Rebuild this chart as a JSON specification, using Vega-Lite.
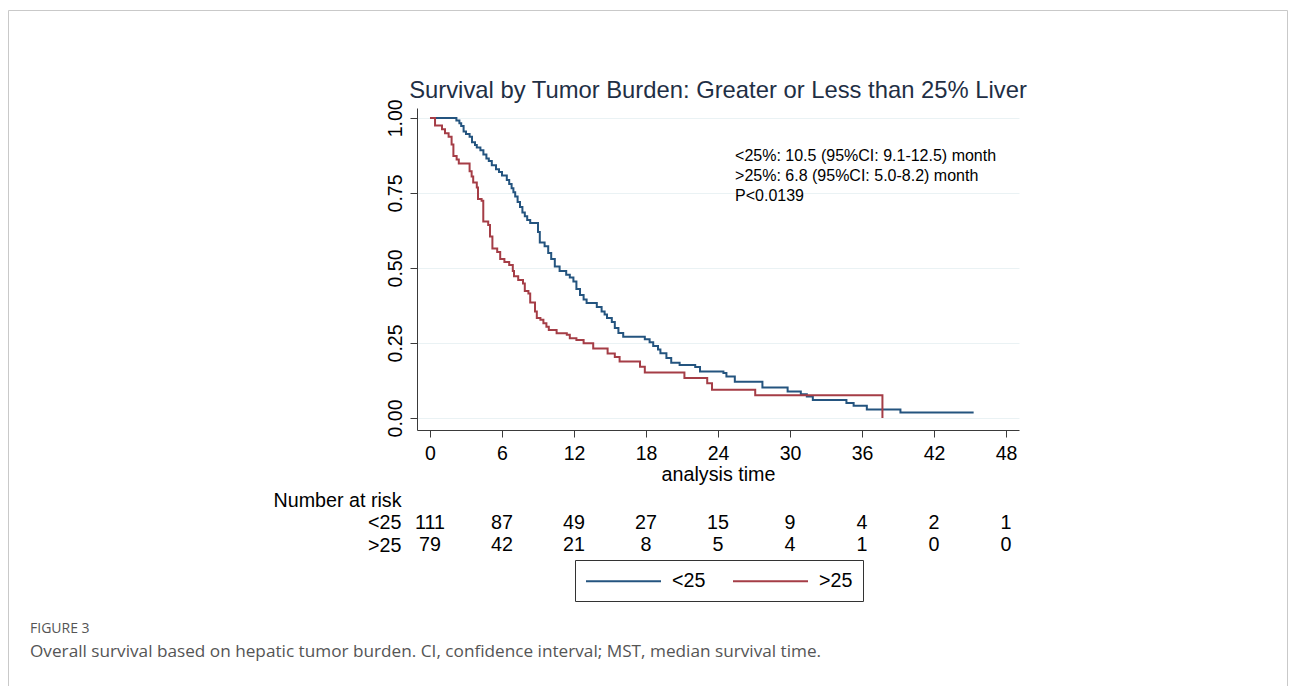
{
  "$schema": "https://vega.github.io/schema/vega-lite/v6.json",
  "autosize": "none",
  "padding": {"left": 8, "top": 10, "right": 6, "bottom": 0},
  "width": 1279,
  "height": 680,
  "background": "white",
  "config": {
    "view": {"stroke": "#c9c9c9", "strokeWidth": 1},
    "font": "Liberation Sans",
    "axis": {"labelFont": "Liberation Sans", "titleFont": "Liberation Sans", "labelColor": "#000", "titleColor": "#000", "titleFontWeight": "normal"}
  },
  "title": {
    "text": "FIGURE 3",
    "subtitle": "Overall survival based on hepatic tumor burden. CI, confidence interval; MST, median survival time.",
    "orient": "bottom",
    "anchor": "start",
    "frame": "group",
    "offset": -68,
    "dx": 22,
    "font": "Open Sans",
    "fontSize": 14,
    "fontWeight": "normal",
    "color": "#555555",
    "subtitleFont": "Open Sans",
    "subtitleFontSize": 17.2,
    "subtitleColor": "#555555",
    "subtitlePadding": 7
  },
  "datasets": {
    "km": [
      {"group": "<25", "time": 0, "surv": 1.0},
      {"group": "<25", "time": 2.2, "surv": 0.991},
      {"group": "<25", "time": 2.45, "surv": 0.982},
      {"group": "<25", "time": 2.6, "surv": 0.973},
      {"group": "<25", "time": 2.8, "surv": 0.955},
      {"group": "<25", "time": 3.0, "surv": 0.946},
      {"group": "<25", "time": 3.3, "surv": 0.937},
      {"group": "<25", "time": 3.5, "surv": 0.919},
      {"group": "<25", "time": 3.75, "surv": 0.91},
      {"group": "<25", "time": 3.9, "surv": 0.901},
      {"group": "<25", "time": 4.2, "surv": 0.892},
      {"group": "<25", "time": 4.45, "surv": 0.878},
      {"group": "<25", "time": 4.7, "surv": 0.865},
      {"group": "<25", "time": 4.9, "surv": 0.856},
      {"group": "<25", "time": 5.15, "surv": 0.842},
      {"group": "<25", "time": 5.5, "surv": 0.829},
      {"group": "<25", "time": 5.75, "surv": 0.82},
      {"group": "<25", "time": 6.0, "surv": 0.808},
      {"group": "<25", "time": 6.4, "surv": 0.793},
      {"group": "<25", "time": 6.6, "surv": 0.78},
      {"group": "<25", "time": 6.8, "surv": 0.766},
      {"group": "<25", "time": 6.95, "surv": 0.752},
      {"group": "<25", "time": 7.1, "surv": 0.738},
      {"group": "<25", "time": 7.3, "surv": 0.72},
      {"group": "<25", "time": 7.5, "surv": 0.703},
      {"group": "<25", "time": 7.7, "surv": 0.685},
      {"group": "<25", "time": 7.9, "surv": 0.672},
      {"group": "<25", "time": 8.1, "surv": 0.66},
      {"group": "<25", "time": 8.35, "surv": 0.65},
      {"group": "<25", "time": 9.0, "surv": 0.62},
      {"group": "<25", "time": 9.15, "surv": 0.585},
      {"group": "<25", "time": 9.55, "surv": 0.572},
      {"group": "<25", "time": 9.85, "surv": 0.55},
      {"group": "<25", "time": 10.1, "surv": 0.53},
      {"group": "<25", "time": 10.4, "surv": 0.505},
      {"group": "<25", "time": 10.8, "surv": 0.49},
      {"group": "<25", "time": 11.35, "surv": 0.477},
      {"group": "<25", "time": 11.65, "surv": 0.468},
      {"group": "<25", "time": 11.95, "surv": 0.455},
      {"group": "<25", "time": 12.2, "surv": 0.43},
      {"group": "<25", "time": 12.5, "surv": 0.41},
      {"group": "<25", "time": 12.8, "surv": 0.395},
      {"group": "<25", "time": 13.05, "surv": 0.383},
      {"group": "<25", "time": 13.9, "surv": 0.37},
      {"group": "<25", "time": 14.3, "surv": 0.355},
      {"group": "<25", "time": 14.55, "surv": 0.345},
      {"group": "<25", "time": 14.75, "surv": 0.333},
      {"group": "<25", "time": 15.15, "surv": 0.32},
      {"group": "<25", "time": 15.4, "surv": 0.3},
      {"group": "<25", "time": 15.7, "surv": 0.283},
      {"group": "<25", "time": 16.1, "surv": 0.271},
      {"group": "<25", "time": 17.9, "surv": 0.262},
      {"group": "<25", "time": 18.3, "surv": 0.252},
      {"group": "<25", "time": 18.6, "surv": 0.24},
      {"group": "<25", "time": 19.0, "surv": 0.228},
      {"group": "<25", "time": 19.2, "surv": 0.216},
      {"group": "<25", "time": 19.7, "surv": 0.2},
      {"group": "<25", "time": 20.1, "surv": 0.184},
      {"group": "<25", "time": 20.8, "surv": 0.177},
      {"group": "<25", "time": 22.1, "surv": 0.17},
      {"group": "<25", "time": 22.5, "surv": 0.155},
      {"group": "<25", "time": 24.45, "surv": 0.15},
      {"group": "<25", "time": 24.7, "surv": 0.138},
      {"group": "<25", "time": 25.4, "surv": 0.121},
      {"group": "<25", "time": 27.7, "surv": 0.102},
      {"group": "<25", "time": 29.8, "surv": 0.088},
      {"group": "<25", "time": 30.9, "surv": 0.079},
      {"group": "<25", "time": 31.4, "surv": 0.072},
      {"group": "<25", "time": 31.9, "surv": 0.06},
      {"group": "<25", "time": 34.7, "surv": 0.05},
      {"group": "<25", "time": 35.3, "surv": 0.041},
      {"group": "<25", "time": 36.4, "surv": 0.028},
      {"group": "<25", "time": 39.2, "surv": 0.018},
      {"group": "<25", "time": 45.3, "surv": 0.018},
      {"group": ">25", "time": 0, "surv": 1.0},
      {"group": ">25", "time": 0.42, "surv": 0.975},
      {"group": ">25", "time": 1.0, "surv": 0.962},
      {"group": ">25", "time": 1.25, "surv": 0.949},
      {"group": ">25", "time": 1.55, "surv": 0.937},
      {"group": ">25", "time": 1.8, "surv": 0.911},
      {"group": ">25", "time": 1.95, "surv": 0.873},
      {"group": ">25", "time": 2.22, "surv": 0.861},
      {"group": ">25", "time": 2.4, "surv": 0.848},
      {"group": ">25", "time": 3.3, "surv": 0.822},
      {"group": ">25", "time": 3.47, "surv": 0.805},
      {"group": ">25", "time": 3.6, "surv": 0.785},
      {"group": ">25", "time": 3.9, "surv": 0.768},
      {"group": ">25", "time": 4.0, "surv": 0.73},
      {"group": ">25", "time": 4.3, "surv": 0.724},
      {"group": ">25", "time": 4.44, "surv": 0.655},
      {"group": ">25", "time": 4.85, "surv": 0.643},
      {"group": ">25", "time": 5.0, "surv": 0.605},
      {"group": ">25", "time": 5.2, "surv": 0.565},
      {"group": ">25", "time": 5.6, "surv": 0.553},
      {"group": ">25", "time": 5.85, "surv": 0.53},
      {"group": ">25", "time": 6.2, "surv": 0.52},
      {"group": ">25", "time": 6.6, "surv": 0.51},
      {"group": ">25", "time": 6.9, "surv": 0.49},
      {"group": ">25", "time": 7.0, "surv": 0.472},
      {"group": ">25", "time": 7.35, "surv": 0.46},
      {"group": ">25", "time": 7.75, "surv": 0.448},
      {"group": ">25", "time": 7.9, "surv": 0.423},
      {"group": ">25", "time": 8.2, "surv": 0.415},
      {"group": ">25", "time": 8.35, "surv": 0.385},
      {"group": ">25", "time": 8.75, "surv": 0.355},
      {"group": ">25", "time": 8.9, "surv": 0.333},
      {"group": ">25", "time": 9.2, "surv": 0.327},
      {"group": ">25", "time": 9.45, "surv": 0.316},
      {"group": ">25", "time": 9.7, "surv": 0.304},
      {"group": ">25", "time": 9.9, "surv": 0.293},
      {"group": ">25", "time": 10.55, "surv": 0.282},
      {"group": ">25", "time": 11.4, "surv": 0.277},
      {"group": ">25", "time": 11.65, "surv": 0.266},
      {"group": ">25", "time": 12.2, "surv": 0.26},
      {"group": ">25", "time": 12.8, "surv": 0.249},
      {"group": ">25", "time": 13.6, "surv": 0.232},
      {"group": ">25", "time": 14.8, "surv": 0.215},
      {"group": ">25", "time": 15.4, "surv": 0.203},
      {"group": ">25", "time": 15.8, "surv": 0.188},
      {"group": ">25", "time": 17.5, "surv": 0.171},
      {"group": ">25", "time": 17.9, "surv": 0.152},
      {"group": ">25", "time": 21.2, "surv": 0.133},
      {"group": ">25", "time": 23.1, "surv": 0.116},
      {"group": ">25", "time": 23.5, "surv": 0.094},
      {"group": ">25", "time": 27.1, "surv": 0.076},
      {"group": ">25", "time": 37.7, "surv": 0.0}
    ],
    "risk": [
      {"row": "<25", "time": 0, "n": 111},
      {"row": "<25", "time": 6, "n": 87},
      {"row": "<25", "time": 12, "n": 49},
      {"row": "<25", "time": 18, "n": 27},
      {"row": "<25", "time": 24, "n": 15},
      {"row": "<25", "time": 30, "n": 9},
      {"row": "<25", "time": 36, "n": 4},
      {"row": "<25", "time": 42, "n": 2},
      {"row": "<25", "time": 48, "n": 1},
      {"row": ">25", "time": 0, "n": 79},
      {"row": ">25", "time": 6, "n": 42},
      {"row": ">25", "time": 12, "n": 21},
      {"row": ">25", "time": 18, "n": 8},
      {"row": ">25", "time": 24, "n": 5},
      {"row": ">25", "time": 30, "n": 4},
      {"row": ">25", "time": 36, "n": 1},
      {"row": ">25", "time": 42, "n": 0},
      {"row": ">25", "time": 48, "n": 0}
    ]
  },
  "layer": [
    {
      "layer": [
        {
          "data": {"name": "km"},
          "mark": {"type": "line", "interpolate": "step-after", "strokeWidth": 2},
          "encoding": {
            "x": {
              "field": "time", "type": "quantitative",
              "scale": {"domain": [-1.083, 49.08], "range": [409, 1011], "nice": false, "zero": false},
              "axis": {
                "orient": "bottom", "offset": -260, "values": [0, 6, 12, 18, 24, 30, 36, 42, 48],
                "title": "analysis time", "titleFontSize": 19.7, "titlePadding": 2,
                "labelFontSize": 19.5, "labelPadding": 7, "tickSize": 7,
                "domainColor": "#3a3a3a", "tickColor": "#3a3a3a", "grid": false, "labelFlush": false
              }
            },
            "y": {
              "field": "surv", "type": "quantitative",
              "scale": {"domain": [-0.04, 1.033], "range": [420, 98], "nice": false, "zero": false},
              "axis": {
                "orient": "left", "offset": -409, "values": [0, 0.25, 0.5, 0.75, 1], "format": ".2f",
                "title": null, "labelAngle": 270, "labelAlign": "center", "labelBaseline": "bottom",
                "labelFontSize": 19.5, "labelPadding": 5, "tickSize": 7,
                "domainColor": "#3a3a3a", "tickColor": "#3a3a3a",
                "grid": true, "gridColor": "#eaf2f4", "labelFlush": false
              }
            },
            "color": {
              "field": "group", "type": "nominal",
              "scale": {"domain": ["<25", ">25"], "range": ["#24547f", "#a53d46"]},
              "legend": {
                "orient": "none", "legendX": 567, "legendY": 550, "direction": "horizontal",
                "title": null, "symbolType": "M-1,0L6.5,0", "symbolSize": 400, "symbolStrokeWidth": 2,
                "labelFontSize": 19.7, "labelFont": "Liberation Sans", "labelColor": "#000",
                "labelOffset": 65, "columnPadding": 23, "padding": 10, "strokeColor": "#333333"
              }
            }
          }
        },
        {
          "data": {"values": [{}]},
          "mark": {"type": "text", "fontSize": 23.8, "color": "#1f2f45", "align": "center", "baseline": "middle"},
          "encoding": {
            "x": {"datum": 24},
            "y": {"datum": 1.09},
            "text": {"value": "Survival by Tumor Burden: Greater or Less than 25% Liver"}
          }
        },
        {
          "data": {"values": [{}]},
          "mark": {"type": "text", "fontSize": 16, "color": "#000", "align": "left", "baseline": "middle", "lineHeight": 20},
          "encoding": {
            "x": {"datum": 25.42},
            "y": {"datum": 0.874},
            "text": {"value": ["<25%: 10.5 (95%CI: 9.1-12.5) month", ">25%: 6.8 (95%CI: 5.0-8.2) month", "P<0.0139"]}
          }
        }
      ]
    },
    {
      "data": {"name": "risk"},
      "mark": {"type": "text", "fontSize": 19.7, "color": "#000", "align": "center", "baseline": "middle"},
      "encoding": {
        "x": {"field": "time", "type": "quantitative"},
        "y": {
          "field": "row", "type": "nominal",
          "scale": {"type": "point", "domain": ["Number at risk", "<25", ">25"], "range": [490, 535], "padding": 0},
          "axis": {
            "orient": "left", "offset": -393, "title": null, "domain": false, "ticks": false,
            "labelPadding": 0, "labelFontSize": 19.7, "labelColor": "#000", "grid": false, "labelBaseline": "middle"
          }
        },
        "text": {"field": "n", "type": "quantitative"}
      }
    }
  ],
  "resolve": {"scale": {"y": "independent"}}
}
